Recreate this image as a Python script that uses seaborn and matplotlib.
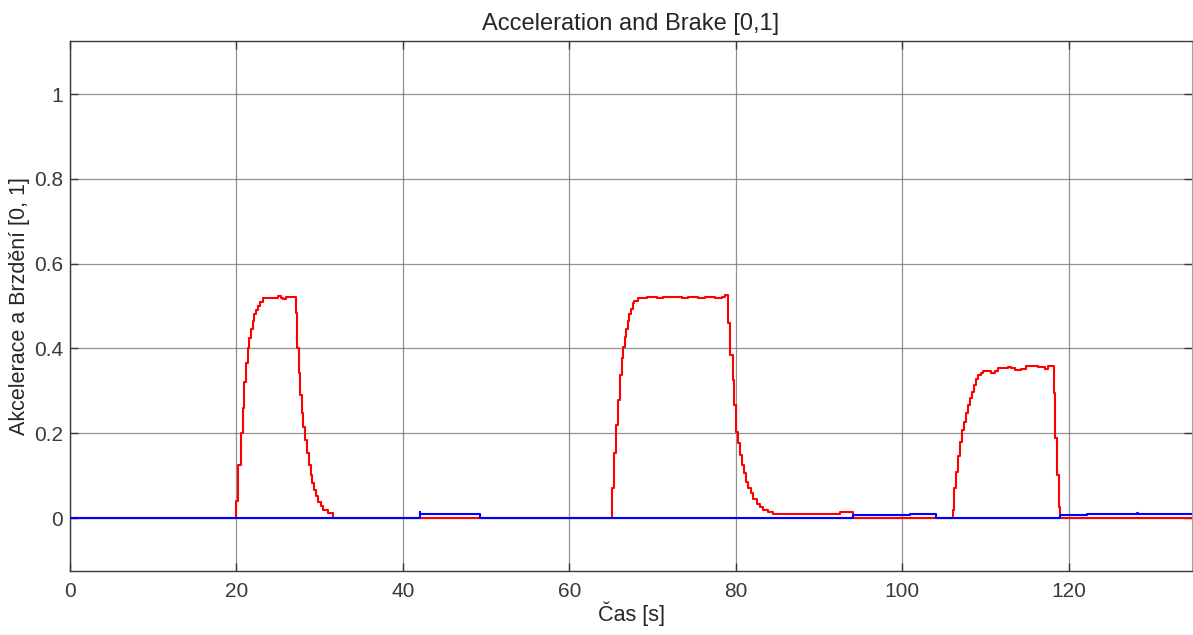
import matplotlib
matplotlib.use("Agg")
import matplotlib.pyplot as plt
import seaborn as sns
import pandas as pd

# Acceleration (red) step breakpoints: time [s], value
accel_t = [0, 20.0, 20.2, 20.5, 20.75, 20.95, 21.15, 21.35, 21.55, 21.75, 21.95, 22.15, 22.35, 22.55,
           22.8, 23.2, 24.0, 25.0, 25.3, 25.6, 26.0,
           27.15, 27.3, 27.47, 27.63, 27.83, 28.03, 28.27, 28.43, 28.67, 28.9, 29.1, 29.35, 29.55,
           29.83, 30.1, 30.4, 31.0, 31.6,
           65.1, 65.35, 65.59, 65.83, 66.07, 66.31, 66.47, 66.63, 66.79, 66.99, 67.19, 67.39, 67.59,
           67.79, 68.27, 69.27, 70.47, 71.19, 73.47, 74.27, 75.47, 76.27, 77.48, 78.28, 78.68,
           79.08, 79.28, 79.6, 79.8, 80.0, 80.28, 80.48, 80.68, 80.96, 81.2, 81.48, 81.77, 82.08,
           82.48, 82.88, 83.28, 83.88, 84.5, 92.5, 94.1,
           106.03, 106.19, 106.43, 106.67, 106.9, 107.15, 107.39, 107.63, 107.87, 108.11, 108.35,
           108.59, 108.83, 109.1, 109.39, 109.7, 110.5, 110.7, 111.1, 111.5, 112.7, 113.1, 113.5,
           114.3, 114.9, 116.3, 117.1, 117.5,
           118.2, 118.36, 118.6, 118.83, 119.0, 135.0]
accel_v = [0, 0.04, 0.125, 0.20, 0.26, 0.32, 0.365, 0.40, 0.425, 0.445, 0.465, 0.48, 0.49, 0.50,
           0.51, 0.518, 0.52, 0.523, 0.52, 0.517, 0.522,
           0.483, 0.40, 0.341, 0.29, 0.247, 0.215, 0.184, 0.153, 0.125, 0.101, 0.082, 0.066, 0.052,
           0.038, 0.028, 0.02, 0.011, 0.0,
           0.07, 0.153, 0.22, 0.278, 0.337, 0.377, 0.404, 0.426, 0.445, 0.465, 0.481, 0.494, 0.506,
           0.512, 0.518, 0.522, 0.519, 0.522, 0.519, 0.522, 0.520, 0.522, 0.519, 0.522, 0.526,
           0.459, 0.384, 0.325, 0.266, 0.204, 0.176, 0.149, 0.125, 0.105, 0.086, 0.07, 0.058, 0.044,
           0.033, 0.026, 0.019, 0.014, 0.01, 0.015, 0.0,
           0.019, 0.07, 0.109, 0.146, 0.18, 0.208, 0.227, 0.247, 0.267, 0.282, 0.298,
           0.314, 0.327, 0.337, 0.343, 0.347, 0.347, 0.343, 0.347, 0.353, 0.357, 0.353, 0.348,
           0.352, 0.358, 0.355, 0.352, 0.358,
           0.294, 0.188, 0.101, 0.027, 0.0, 0.0]

# Brake (blue) step breakpoints
brake_t = [0, 42.0, 42.1, 49.2, 94.1, 100.9, 104.1, 119.0, 122.2, 128.2, 128.3, 135.0]
brake_v = [0, 0.015, 0.009, 0.0, 0.006, 0.01, 0.0, 0.006, 0.01, 0.012, 0.01, 0.01]

x_ticks = [0, 20, 40, 60, 80, 100, 120]
y_ticks = [0, 0.2, 0.4, 0.6, 0.8, 1]
y_tick_labels = ["0", "0.2", "0.4", "0.6", "0.8", "1"]

sns.set_style("white")
plt.rcParams['font.family'] = ['Liberation Sans', 'DejaVu Sans']

fig = plt.figure(figsize=(11.93, 6.35), dpi=100)
ax = fig.add_axes([70 / 1193, 64 / 635, 1122 / 1193, 530 / 635])

acc_df = pd.DataFrame({"t": accel_t, "v": accel_v})
brk_df = pd.DataFrame({"t": brake_t, "v": brake_v})

sns.lineplot(data=acc_df, x="t", y="v", ax=ax, color=(1, 0, 0), lw=1.5,
             drawstyle="steps-post", estimator=None, sort=False, zorder=3)
sns.lineplot(data=brk_df, x="t", y="v", ax=ax, color=(0, 0, 1), lw=1.5,
             drawstyle="steps-post", estimator=None, sort=False, zorder=4)

ax.set_xlim(0, 134.8)
ax.set_ylim(-0.125, 1.125)
ax.set_xticks(x_ticks)
ax.set_xticklabels([str(v) for v in x_ticks])
ax.set_yticks(y_ticks)
ax.set_yticklabels(y_tick_labels)

ax.grid(True, color="#6e6e6e", lw=0.9, alpha=0.75)
ax.set_axisbelow(True)
for side in ["left", "bottom", "top"]:
    ax.spines[side].set_color("#3a3a3a")
    ax.spines[side].set_linewidth(1.0)
ax.spines["right"].set_color("#a0a0a0")
ax.spines["right"].set_linewidth(0.8)
ax.tick_params(direction="in", length=6, width=1, color="#3a3a3a", labelsize=15,
               labelcolor="#3a3a3a", top=True, right=True, bottom=True, left=True)
ax.tick_params(axis="x", pad=8)
ax.tick_params(axis="y", pad=5)

ax.set_title("Acceleration and Brake [0,1]", fontsize=17, color="#262626", pad=8)
ax.set_xlabel("Čas [s]", fontsize=15.5, color="#262626", labelpad=0)
ax.set_ylabel("Akcelerace a Brzdění [0, 1]", fontsize=15.5, color="#262626", labelpad=3)

fig.savefig("out.png", dpi=100)
